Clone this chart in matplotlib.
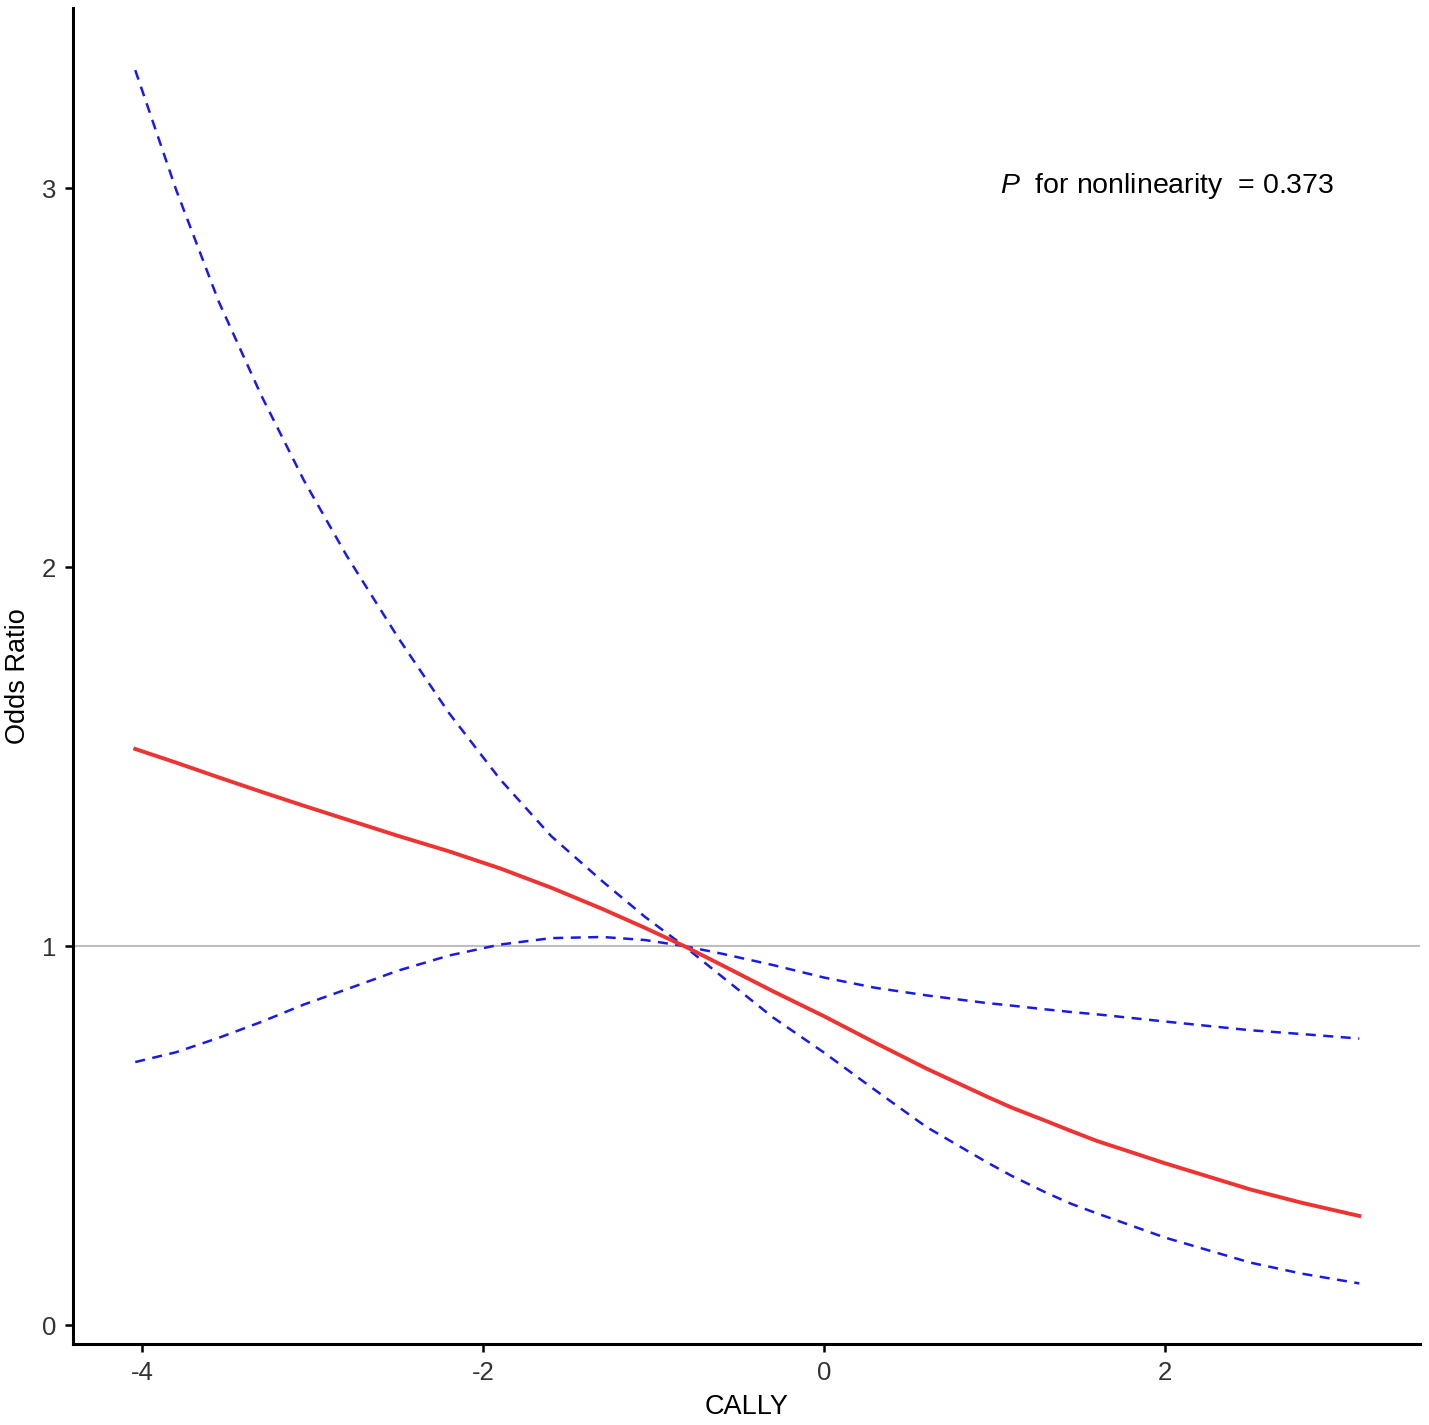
import numpy as np
import matplotlib.pyplot as plt

plt.rcParams['font.family'] = ['Liberation Sans', 'DejaVu Sans']
plt.rcParams['mathtext.fontset'] = 'custom'
plt.rcParams['mathtext.rm'] = 'Liberation Sans'
plt.rcParams['mathtext.it'] = 'Liberation Sans:italic'
plt.rcParams['axes.unicode_minus'] = False

# CALLY values (x) and odds ratio estimate with 95% CI
cally = [-4.04, -3.8, -3.55, -3.3, -3.05, -2.8, -2.5, -2.2, -1.9, -1.6, -1.3,
         -1.05, -0.82, -0.6, -0.3, 0.0, 0.3, 0.6, 0.95, 1.1, 1.3, 1.45, 1.6,
         2.0, 2.5, 2.8, 3.14]
odds_ratio = [1.520, 1.484, 1.445, 1.407, 1.370, 1.334, 1.291, 1.250, 1.205,
              1.154, 1.098, 1.048, 1.000, 0.950, 0.881, 0.815, 0.745, 0.677,
              0.604, 0.574, 0.539, 0.512, 0.486, 0.427, 0.358, 0.323, 0.288]
upper = [3.311, 2.995, 2.700, 2.452, 2.228, 2.030, 1.815, 1.615, 1.440, 1.290,
         1.171, 1.077, 1.000, 0.980, 0.950, 0.917, 0.890, 0.870, 0.850, 0.843,
         0.833, 0.826, 0.820, 0.801, 0.778, 0.768, 0.756]
lower = [0.694, 0.720, 0.758, 0.800, 0.846, 0.886, 0.935, 0.975, 1.004, 1.021,
         1.024, 1.016, 1.000, 0.920, 0.812, 0.719, 0.620, 0.523, 0.431, 0.394,
         0.350, 0.320, 0.295, 0.231, 0.165, 0.136, 0.110]
p_nonlin = 0.373

fig = plt.figure(figsize=(14.29, 14.25), dpi=100)
ax = fig.add_axes([0.0511, 0.0568, 0.9426, 0.9376])

ax.axhline(1, color='#BEBEBE', lw=1.5, zorder=1)
ax.plot(cally, upper, color='#1A1AE6', lw=1.8, ls=(0, (4, 3)), zorder=2)
ax.plot(cally, lower, color='#1A1AE6', lw=1.8, ls=(0, (4, 3)), zorder=2)
ax.plot(cally, odds_ratio, color='#EE3333', lw=2.8, zorder=3)

ax.set_xlim(-4.405, 3.496)
ax.set_ylim(-0.05, 3.475)
ax.set_xticks([-4, -2, 0, 2])
ax.set_yticks([0, 1, 2, 3])

for side in ['top', 'right']:
    ax.spines[side].set_visible(False)
for side in ['left', 'bottom']:
    ax.spines[side].set_linewidth(2.2)
ax.tick_params(axis='both', length=6, width=1.8, labelsize=18.5,
               labelcolor='#333333', pad=6)

ax.set_xlabel('CALLY', fontsize=19.5, labelpad=7)
ax.set_ylabel('Odds Ratio', fontsize=19.5, labelpad=8)

ax.text(1.032, 3.005, r'$\it{P}$  for nonlinearity  = ' + f'{p_nonlin:.3f}',
        fontsize=20.5, ha='left', va='center')

fig.savefig('out.png', dpi=100)
